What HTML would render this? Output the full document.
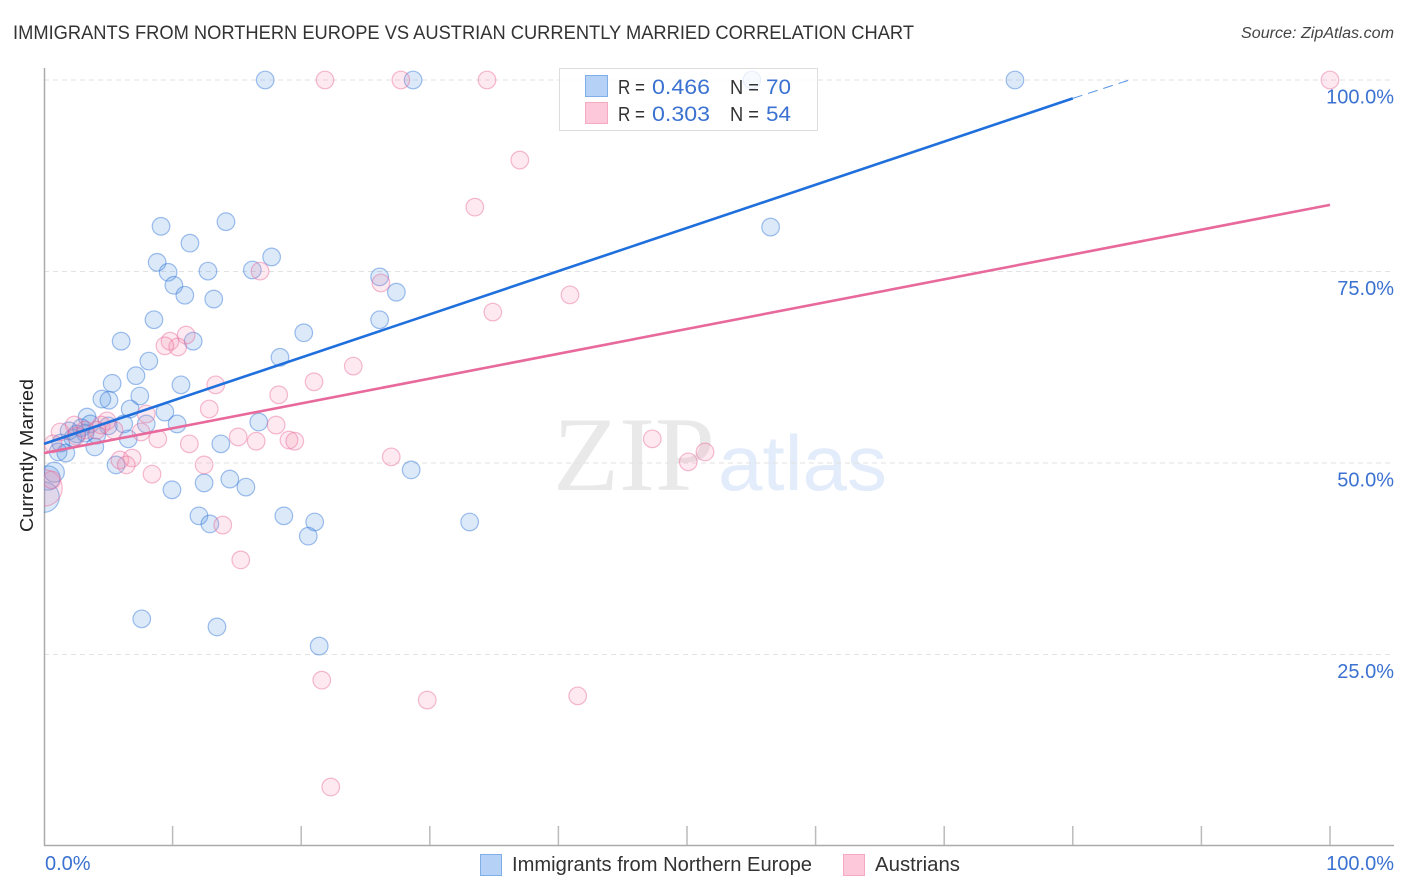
<!DOCTYPE html>
<html lang="en">
<head>
<meta charset="utf-8">
<title>Immigrants from Northern Europe vs Austrian Currently Married Correlation Chart</title>
<style>
html,body{margin:0;padding:0;background:#fff;width:1406px;height:892px;overflow:hidden}
svg{display:block;font-family:"Liberation Sans",sans-serif}
</style>
</head>
<body>
<svg id="chart" width="1406" height="892" viewBox="0 0 1406 892" xmlns="http://www.w3.org/2000/svg">
  <defs><clipPath id="plot-clip"><rect x="44" y="60" width="1350" height="786"/></clipPath></defs>
  <text x="13" y="39" font-size="19" fill="#333" textLength="901" lengthAdjust="spacingAndGlyphs">IMMIGRANTS FROM NORTHERN EUROPE VS AUSTRIAN CURRENTLY MARRIED CORRELATION CHART</text>
  <text x="1241" y="38" font-size="15.5" font-style="italic" fill="#444" textLength="153" lengthAdjust="spacingAndGlyphs">Source: ZipAtlas.com</text>
  <text transform="translate(33,455.5) rotate(-90)" font-size="18.5" fill="#222" text-anchor="middle" textLength="153" lengthAdjust="spacingAndGlyphs">Currently Married</text>
  <g>
    <text x="553" y="490" font-family="'Liberation Serif',serif" font-size="106" fill="#e9e9e9" textLength="162" lengthAdjust="spacingAndGlyphs">ZIP</text>
    <text x="718" y="490" font-size="78" fill="#e2ecfa" textLength="169" lengthAdjust="spacingAndGlyphs">atlas</text>
  </g>
  <g id="grid"></g>
  <g id="axes"></g>
  <g id="points" clip-path="url(#plot-clip)"></g>
  <g id="trends"></g>
  <g id="tick-labels"></g>

  <g>
    <rect x="559.5" y="68.5" width="258" height="62" fill="#fff" fill-opacity="0.78" stroke="#ddd" stroke-width="1"/>
    <rect x="585.5" y="75.5" width="22" height="21" fill="#b5d2f6" stroke="#7faee8"/>
    <rect x="585.5" y="102.5" width="22" height="21" fill="#fdc8d9" stroke="#f5a9c2"/>
    <g font-size="20" fill="#333">
      <text x="618" y="94" textLength="27" lengthAdjust="spacingAndGlyphs">R =</text>
      <text x="730" y="94" textLength="29" lengthAdjust="spacingAndGlyphs">N =</text>
      <text x="618" y="121" textLength="27" lengthAdjust="spacingAndGlyphs">R =</text>
      <text x="730" y="121" textLength="29" lengthAdjust="spacingAndGlyphs">N =</text>
    </g>
    <g font-size="21.5" fill="#3b72d1">
      <text x="652" y="94" textLength="58" lengthAdjust="spacingAndGlyphs">0.466</text>
      <text x="766" y="94" textLength="25" lengthAdjust="spacingAndGlyphs">70</text>
      <text x="652" y="121" textLength="58" lengthAdjust="spacingAndGlyphs">0.303</text>
      <text x="766" y="121" textLength="25" lengthAdjust="spacingAndGlyphs">54</text>
    </g>
  </g>

  <g>
    <rect x="480.5" y="854.5" width="21" height="21" fill="#b5d2f6" stroke="#7faee8"/>
    <text x="512" y="871" font-size="20" fill="#333" textLength="300" lengthAdjust="spacingAndGlyphs">Immigrants from Northern Europe</text>
    <rect x="843.5" y="854.5" width="21" height="21" fill="#fdc8d9" stroke="#f5a9c2"/>
    <text x="875" y="871" font-size="20" fill="#333" textLength="85" lengthAdjust="spacingAndGlyphs">Austrians</text>
  </g>
</svg>
<script>
const xTicks = [0,10,20,30,40,50,60,70,80,90,100];
const yGridTicks = [25,50,75,100];
const yTickLabels = ["25.0%","50.0%","75.0%","100.0%"];
const xEdgeTicks = [0,100];
const xTickLabels = ["0.0%","100.0%"];

const blueX = [17.2,28.7,55.05,75.5,9.1,14.15,56.5,11.35,8.8,9.65,12.75,16.2,17.7,26.1,10.1,10.95,27.4,13.2,8.55,26.1,20.2,6.0,11.6,8.15,18.35,7.15,5.3,10.65,5.05,7.45,4.5,6.7,9.4,3.35,3.6,2.9,6.2,10.35,7.95,16.7,5.0,1.95,3.2,4.1,6.55,13.75,2.25,1.3,3.95,1.1,1.7,5.6,28.55,9.95,12.45,14.45,15.7,12.05,18.65,12.9,21.05,33.1,20.55,7.6,13.45,21.4,2.55];
const blueY = [100,100,100,100,80.9,81.5,80.8,78.7,76.2,74.9,75.05,75.2,76.9,74.3,73.2,71.9,72.3,71.4,68.7,68.7,67.0,65.9,65.9,63.3,63.8,61.4,60.4,60.2,58.2,58.75,58.35,57.05,56.65,56.0,55.1,54.6,55.1,55.1,55.1,55.35,54.85,54.2,53.9,53.65,53.15,52.5,53.25,52.6,52.1,51.45,51.3,49.75,49.1,46.5,47.4,47.9,46.85,43.1,43.1,42.05,42.3,42.3,40.45,29.65,28.6,26.1,53.8];
const blueClusterX = [0,0.3,0.8];
const blueClusterY = [45.55,48.05,48.8];
const blueClusterWeight = [3,1.9,1.3];

const pinkX = [21.85,27.75,34.45,100,37.0,33.5,16.8,26.2,40.9,34.9,11.05,9.8,10.4,9.4,24.05,13.35,21.0,18.25,12.85,7.95,4.9,2.35,1.25,4.45,7.55,4.1,18.05,15.1,8.85,16.5,11.3,19.05,19.5,0.7,5.9,6.85,6.4,12.45,27.0,47.3,51.4,50.1,8.4,13.9,15.3,21.6,29.8,41.5,22.3,0.6,3.2,2.5,5.45];
const pinkY = [100,100,100,100,89.55,83.4,75.05,73.5,71.95,69.7,66.7,65.9,65.15,65.3,62.65,60.2,60.6,58.9,57.05,56.4,55.5,54.95,54.05,54.95,54.05,54.3,54.95,53.4,53.15,52.85,52.5,53.0,52.85,52.5,50.4,50.65,49.75,49.75,50.8,53.15,51.45,50.15,48.55,41.9,37.35,21.65,19.05,19.6,7.7,47.8,54.3,53.5,54.3];
const pinkClusterX = [0];
const pinkClusterY = [46.75];
const pinkClusterWeight = [4.3];

const blueTrendX = [0,80];
const blueTrendY = [52.5,97.6];
const blueTrendExtensionX = [80,84.4];
const blueTrendExtensionY = [97.6,100];
const pinkTrendX = [0,100];
const pinkTrendY = [51.3,83.7];

const NS = "http://www.w3.org/2000/svg";
const xScale = v => 44 + v * 12.86;
const yScale = v => 846 - v * 7.66;
const RADIUS = 8.8;

function make(tag, parent, attrs) {
  const el = document.createElementNS(NS, tag);
  for (const k in attrs) el.setAttribute(k, attrs[k]);
  parent.appendChild(el);
  return el;
}

const grid = document.getElementById("grid");
const axes = document.getElementById("axes");
const pts = document.getElementById("points");
const trends = document.getElementById("trends");
const tickLabels = document.getElementById("tick-labels");

yGridTicks.forEach(t => {
  const line = make("line", grid, {x1:44, x2:1394, y1:yScale(t), y2:yScale(t), stroke:"#e2e2e2", "stroke-width":1, "stroke-dasharray":"5 4"});
  
  
});

const yAxis = make("line", axes, {x1:44.5, x2:44.5, y1:68, y2:846, stroke:"#aaa", "stroke-width":1.5});


const xAxis = make("line", axes, {x1:44, x2:1394, y1:845.5, y2:845.5, stroke:"#aaa", "stroke-width":1.5});


xTicks.slice(1).forEach(t => {
  const tick = make("line", axes, {x1:xScale(t), x2:xScale(t), y1:826, y2:845, stroke:"#bbb", "stroke-width":1.5});
  
  
});

function drawPoints(xs, ys, weights, fill, stroke, name) {
  xs.forEach((x, i) => {
    const w = weights ? weights[i] : 1;
    const c = make("circle", pts, {cx:xScale(x), cy:yScale(ys[i]), r:RADIUS * Math.sqrt(w), fill:fill, "fill-opacity":0.2, stroke:stroke, "stroke-opacity":0.45, "stroke-width":1.2});
    
    
  });
}
drawPoints(blueClusterX, blueClusterY, blueClusterWeight, "#4a90e2", "#2f74d8", "point-immigrants-cluster");
drawPoints(blueX, blueY, null, "#4a90e2", "#2f74d8", "point-immigrants");
drawPoints(pinkClusterX, pinkClusterY, pinkClusterWeight, "#f48fb1", "#e8699b", "point-austrians-cluster");
drawPoints(pinkX, pinkY, null, "#f48fb1", "#e8699b", "point-austrians");

const blueLine = make("line", trends, {x1:xScale(blueTrendX[0]), y1:yScale(blueTrendY[0]), x2:xScale(blueTrendX[1]), y2:yScale(blueTrendY[1]), stroke:"#1f6fdc", "stroke-width":2.6});


const blueExt = make("line", trends, {x1:xScale(blueTrendExtensionX[0]), y1:yScale(blueTrendExtensionY[0]), x2:xScale(blueTrendExtensionX[1]), y2:yScale(blueTrendExtensionY[1]), stroke:"#1f6fdc", "stroke-width":1, "stroke-dasharray":"10 6", "stroke-opacity":0.75});


const pinkLine = make("line", trends, {x1:xScale(pinkTrendX[0]), y1:yScale(pinkTrendY[0]), x2:xScale(pinkTrendX[1]), y2:yScale(pinkTrendY[1]), stroke:"#e8699b", "stroke-width":2.6});



yGridTicks.forEach((t, i) => {
  const label = make("text", tickLabels, {x:1394, y:yScale(t) + 23.5, "font-size":20, fill:"#3b72d1", "text-anchor":"end"});
  label.textContent = yTickLabels[i];
  
  
});
xEdgeTicks.forEach((t, i) => {
  const label = make("text", tickLabels, {x: i === 0 ? 45 : 1394, y:870, "font-size":20, fill:"#3b72d1", "text-anchor": i === 0 ? "start" : "end"});
  label.textContent = xTickLabels[i];
  
  
});
</script>
</body>
</html>
